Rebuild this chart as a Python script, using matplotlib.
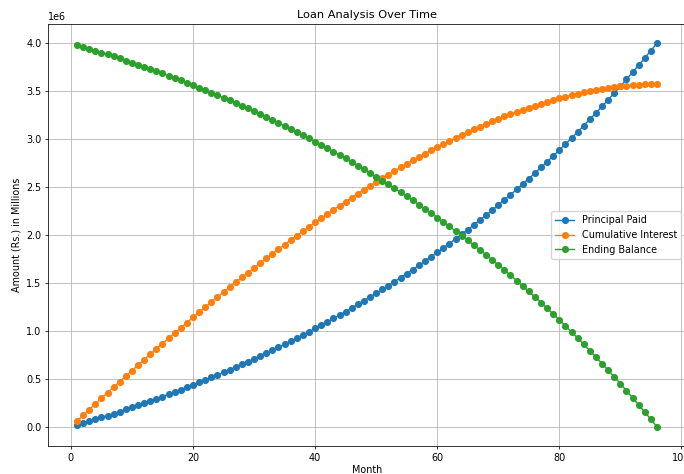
import matplotlib.pyplot as plt

## data (amounts in millions of Rs.)
months = list(range(1, 97))

principal_paid = [
    0.0189, 0.0381, 0.0575, 0.0773, 0.0974, 0.1177, 0.1384, 0.1593, 0.1806, 0.2022,
    0.2242, 0.2464, 0.2690, 0.2919, 0.3152, 0.3388, 0.3628, 0.3872, 0.4119, 0.4369,
    0.4624, 0.4882, 0.5144, 0.5411, 0.5681, 0.5955, 0.6233, 0.6516, 0.6802, 0.7093,
    0.7389, 0.7688, 0.7993, 0.8302, 0.8615, 0.8933, 0.9256, 0.9584, 0.9917, 1.0254,
    1.0597, 1.0945, 1.1298, 1.1657, 1.2021, 1.2390, 1.2765, 1.3145, 1.3531, 1.3923,
    1.4321, 1.4725, 1.5134, 1.5550, 1.5973, 1.6401, 1.6836, 1.7278, 1.7726, 1.8181,
    1.8642, 1.9111, 1.9586, 2.0069, 2.0559, 2.1057, 2.1561, 2.2074, 2.2594, 2.3122,
    2.3658, 2.4202, 2.4753, 2.5314, 2.5882, 2.6460, 2.7045, 2.7640, 2.8244, 2.8856,
    2.9478, 3.0109, 3.0750, 3.1400, 3.2060, 3.2730, 3.3409, 3.4100, 3.4800, 3.5511,
    3.6233, 3.6965, 3.7709, 3.8463, 3.9229, 4.0000,
]

cumulative_interest = [
    0.0600, 0.1197, 0.1792, 0.2383, 0.2971, 0.3557, 0.4139, 0.4719, 0.5295, 0.5868,
    0.6437, 0.7004, 0.7566, 0.8126, 0.8682, 0.9235, 0.9784, 1.0329, 1.0871, 1.1410,
    1.1944, 1.2475, 1.3002, 1.3524, 1.4043, 1.4558, 1.5069, 1.5575, 1.6078, 1.6576,
    1.7069, 1.7559, 1.8043, 1.8523, 1.8999, 1.9470, 1.9936, 2.0396, 2.0852, 2.1304,
    2.1750, 2.2191, 2.2627, 2.3057, 2.3482, 2.3902, 2.4316, 2.4725, 2.5128, 2.5525,
    2.5916, 2.6301, 2.6681, 2.7054, 2.7420, 2.7781, 2.8135, 2.8482, 2.8823, 2.9157,
    2.9485, 2.9805, 3.0118, 3.0424, 3.0723, 3.1014, 3.1299, 3.1575, 3.1844, 3.2105,
    3.2358, 3.2603, 3.2841, 3.3069, 3.3290, 3.3501, 3.3705, 3.3899, 3.4084, 3.4261,
    3.4428, 3.4586, 3.4734, 3.4873, 3.5002, 3.5121, 3.5231, 3.5328, 3.5417, 3.5495,
    3.5562, 3.5619, 3.5664, 3.5699, 3.5722, 3.5740,
]

ending_balance = [
    3.9811, 3.9619, 3.9425, 3.9227, 3.9026, 3.8823, 3.8616, 3.8407, 3.8194, 3.7978,
    3.7758, 3.7536, 3.7310, 3.7081, 3.6848, 3.6612, 3.6372, 3.6128, 3.5881, 3.5631,
    3.5376, 3.5118, 3.4856, 3.4589, 3.4319, 3.4045, 3.3767, 3.3484, 3.3198, 3.2907,
    3.2611, 3.2312, 3.2007, 3.1698, 3.1385, 3.1067, 3.0744, 3.0416, 3.0083, 2.9746,
    2.9403, 2.9055, 2.8702, 2.8343, 2.7979, 2.7610, 2.7235, 2.6855, 2.6469, 2.6077,
    2.5679, 2.5275, 2.4866, 2.4450, 2.4027, 2.3599, 2.3164, 2.2722, 2.2274, 2.1819,
    2.1358, 2.0889, 2.0414, 1.9931, 1.9441, 1.8943, 1.8439, 1.7926, 1.7406, 1.6878,
    1.6342, 1.5798, 1.5247, 1.4686, 1.4118, 1.3540, 1.2955, 1.2360, 1.1756, 1.1144,
    1.0522, 0.9891, 0.9250, 0.8600, 0.7940, 0.7270, 0.6591, 0.5900, 0.5200, 0.4489,
    0.3767, 0.3035, 0.2291, 0.1537, 0.0771, 0.0000,
]

principal_rs = [v * 1e6 for v in principal_paid]
interest_rs = [v * 1e6 for v in cumulative_interest]
balance_rs = [v * 1e6 for v in ending_balance]

fs = 6.9
plt.rcParams['font.size'] = fs

fig = plt.figure(figsize=(6.84, 4.74), dpi=100)
ax = fig.add_axes([48/684, 28/474, 638/684, 422/474])

ax.plot(months, principal_rs, marker='o', ms=4.1, lw=1.03, label='Principal Paid')
ax.plot(months, interest_rs, marker='o', ms=4.1, lw=1.03, label='Cumulative Interest')
ax.plot(months, balance_rs, marker='o', ms=4.1, lw=1.03, label='Ending Balance')

ax.set_title('Loan Analysis Over Time', fontsize=8.2, pad=4)
ax.set_xlabel('Month', fontsize=fs, labelpad=2)
ax.set_ylabel('Amount (Rs.) in Millions', fontsize=fs, labelpad=3)
ax.tick_params(labelsize=fs, length=2.4, width=0.55, pad=2.4)
ax.yaxis.get_offset_text().set_fontsize(fs)
for s in ax.spines.values():
    s.set_linewidth(0.55)
ax.grid(True, lw=0.55)
ax.legend(loc='center right', fontsize=fs)

plt.savefig('out.png', dpi=100)
